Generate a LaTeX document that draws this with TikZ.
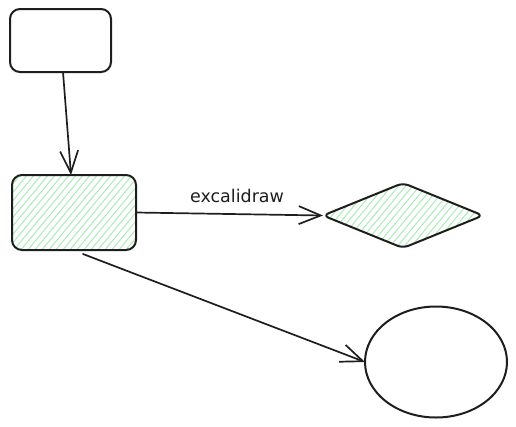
\documentclass[tikz,border=0pt]{standalone}
\usepackage{fontspec}
\setmainfont{DejaVu Sans}
\usetikzlibrary{shapes.geometric,arrows.meta,calc}
\definecolor{ink}{HTML}{1E1E1E}
\definecolor{hatchc}{HTML}{A8EDB2}
\tikzset{
  shapebase/.style={draw=ink, line width=2pt, inner sep=0pt, outer sep=0pt, line join=round},
  roundbox/.style={shapebase, rectangle, rounded corners=10pt},
  hatched/.style={path picture={
      \foreach \i in {-260,-253,...,260}
        \draw[hatchc, line width=1pt]
          ([xshift=\i pt]path picture bounding box.center) ++(-60pt,-72pt) -- ++(120pt,144pt);
  }},
  arr/.style={draw=ink, line width=1.7pt, line cap=round,
    -{Straight Barb[length=22pt, width=18pt, line width=1.7pt]}},
  lbl/.style={font=\fontsize{17.5}{20}\selectfont, text=ink, inner sep=0pt}
}
\begin{document}
\begin{tikzpicture}[x=1pt,y=-1pt]
  \useasboundingbox (0,0) rectangle (516,426);
  \node[roundbox, minimum width=101pt, minimum height=63pt] (a) at (60.5,40.5) {};
  \node[roundbox, hatched, minimum width=124pt, minimum height=75pt] (b) at (74,212.5) {};
  \node[shapebase, diamond, hatched, rounded corners=6pt, minimum width=160pt, minimum height=65pt] (c) at (403,215.5) {};
  \node[shapebase, ellipse, minimum width=142pt, minimum height=111pt] (d) at (436,362) {};
  \draw[arr] ([xshift=2.5pt]a.south) -- ([xshift=-3pt]b.north);
  \draw[arr] (b.east) -- (c.west);
  \draw[arr] ([xshift=9pt,yshift=-4pt]b.south) -- (d.west);
  \node[lbl] (t) at (237,196) {excalidraw};
\end{tikzpicture}
\end{document}
